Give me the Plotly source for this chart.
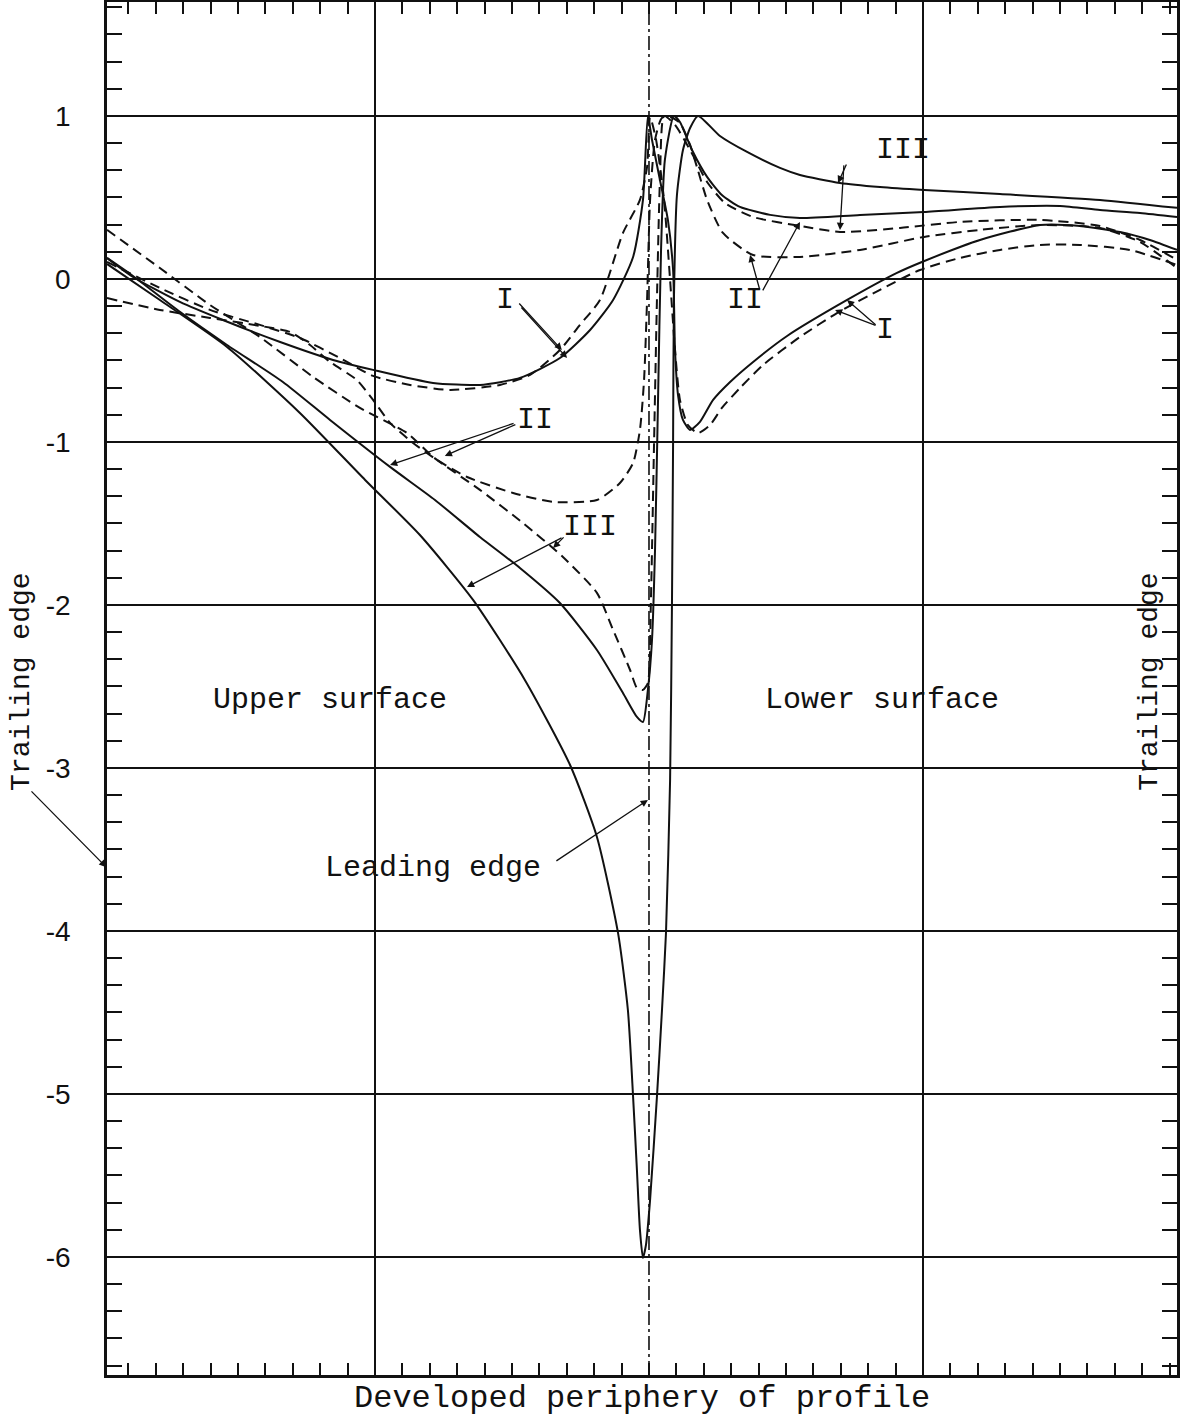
import numpy as np
import plotly.graph_objects as go

# ---------------- data (x: developed periphery, leading edge at 2; y: pressure ratio) -------------
I_SOLID_X = [0.022, 0.117, 0.288, 0.445, 0.654, 0.847, 0.993, 1.212, 1.383, 1.529, 1.675, 1.785, 1.869, 1.942, 1.978, 1.996,
             2.011, 2.040, 2.069, 2.088, 2.095, 2.106, 2.124, 2.150, 2.186, 2.234, 2.296, 2.380, 2.504, 2.723, 2.905, 2.996,
             3.208, 3.427, 3.573, 3.719, 3.828, 3.927]
I_SOLID_Y = [0.129, 0.012, -0.141, -0.252, -0.387, -0.497, -0.558, -0.638, -0.650, -0.607, -0.485, -0.313, -0.129, 0.135, 0.485, 1.0,
             0.853, 0.607, 0.362, 0.055, -0.436, -0.712, -0.865, -0.926, -0.877, -0.742, -0.632, -0.509, -0.350, -0.129, 0.037, 0.104,
             0.239, 0.331, 0.325, 0.288, 0.239, 0.178]

I_DASH_X = [0.022, 0.215, 0.398, 0.580, 0.726, 0.872, 0.993, 1.128, 1.274, 1.456, 1.566, 1.675, 1.748, 1.821, 1.905, 1.967, 1.993, 2.004,
            2.026, 2.055, 2.077, 2.095, 2.113, 2.142, 2.179, 2.223, 2.266, 2.332, 2.416, 2.551, 2.686, 2.843, 2.989, 3.135, 3.281,
            3.427, 3.573, 3.755, 3.927]
I_DASH_Y = [0.104, -0.055, -0.190, -0.282, -0.362, -0.485, -0.595, -0.650, -0.681, -0.650, -0.589, -0.436, -0.282, -0.129, 0.282, 0.485, 0.687, 0.994,
            0.853, 0.485, -0.006, -0.436, -0.742, -0.896, -0.945, -0.896, -0.791, -0.669, -0.528, -0.356, -0.209, -0.067, 0.055, 0.129, 0.178,
            0.209, 0.209, 0.178, 0.086]

II_SOLID_X = [0.022, 0.117, 0.288, 0.460, 0.664, 0.836, 1.055, 1.219, 1.383, 1.529, 1.675, 1.810, 1.905, 1.956, 1.978,
              1.996, 2.011, 2.022, 2.033, 2.044, 2.058, 2.091, 2.113, 2.157, 2.212, 2.266, 2.332, 2.442, 2.551, 2.770,
              3.004, 3.281, 3.500, 3.646, 3.792, 3.927]
II_SOLID_Y = [0.129, 0.018, -0.202, -0.405, -0.632, -0.865, -1.153, -1.356, -1.583, -1.773, -1.988, -2.276, -2.540, -2.687, -2.718,
              -2.521, -2.215, -1.663, -0.742, 0.178, 0.730, 1.0, 0.963, 0.791, 0.626, 0.515, 0.442, 0.393, 0.374, 0.393,
              0.411, 0.442, 0.448, 0.423, 0.405, 0.380]

II_DASH_X = [0.022, 0.215, 0.398, 0.580, 0.690, 0.763, 0.836, 0.934, 0.993, 1.055, 1.139, 1.226, 1.336, 1.504, 1.650, 1.810, 1.894,
             1.942, 1.967, 1.982, 1.993, 2.004, 2.022, 2.047, 2.077,
             2.113, 2.150, 2.175, 2.212, 2.270, 2.380, 2.551, 2.770, 3.004, 3.208, 3.427, 3.646, 3.792, 3.927]
II_DASH_Y = [-0.117, -0.190, -0.239, -0.288, -0.325, -0.405, -0.509, -0.620, -0.742, -0.883, -1.006, -1.110, -1.215, -1.313, -1.368, -1.356, -1.252,
             -1.129, -0.926, -0.620, -0.129, 0.485, 0.853, 0.988, 0.994,
             0.957, 0.822, 0.687, 0.485, 0.282, 0.147, 0.135, 0.178, 0.258, 0.301, 0.331, 0.313, 0.227, 0.067]

III_SOLID_X = [0.022, 0.215, 0.460, 0.726, 0.964, 1.164, 1.358, 1.547, 1.712, 1.810, 1.887, 1.923, 1.942, 1.956, 1.967, 1.978,
               1.989, 2.004, 2.029, 2.047, 2.062, 2.077, 2.084, 2.088, 2.091, 2.102, 2.124, 2.150, 2.179, 2.259, 2.358, 2.478,
               2.551, 2.697, 2.843, 3.004, 3.281, 3.646, 3.927]
III_SOLID_Y = [0.092, -0.129, -0.417, -0.822, -1.233, -1.571, -1.969, -2.460, -2.982, -3.423, -4.012, -4.485, -5.018, -5.466, -5.834, -6.006,
               -5.926, -5.650, -5.018, -4.497, -4.012, -3.074, -1.969, -0.988, -0.129, 0.515, 0.791, 0.926, 1.0, 0.877, 0.779, 0.681,
               0.638, 0.589, 0.564, 0.546, 0.521, 0.485, 0.436]

III_DASH_X = [0.022, 0.215, 0.398, 0.580, 0.774, 0.945, 1.117, 1.212, 1.383, 1.540, 1.686, 1.810, 1.869, 1.931, 1.956, 1.978, 1.996,
              2.007, 2.018, 2.029, 2.040, 2.055,
              2.095, 2.150, 2.212, 2.277, 2.380, 2.551, 2.697, 2.916, 3.135, 3.427, 3.646, 3.792, 3.927]
III_DASH_Y = [0.301, 0.067, -0.160, -0.356, -0.601, -0.791, -0.945, -1.092, -1.294, -1.497, -1.706, -1.926, -2.153, -2.399, -2.509, -2.521, -2.479,
              -1.969, -1.049, -0.129, 0.607, 1.0,
              0.945, 0.791, 0.595, 0.466, 0.380, 0.325, 0.288, 0.313, 0.350, 0.362, 0.325, 0.239, 0.117]

Y_TICK_VALUES = [1, 0, -1, -2, -3, -4, -5, -6]
Y_TICK_LABELS = ["1", "0", "-1", "-2", "-3", "-4", "-5", "-6"]
X_GRID_VALUES = [1, 3]
LEADING_EDGE_X = 2

X_RANGE = [0.022, 3.927]
Y_RANGE = [-6.724, 1.699]

# ---------------- figure ----------------
MONO = "Liberation Mono, Courier New, monospace"
SANS = "Liberation Sans, Arial, sans-serif"
BLACK = "#111111"

fig = go.Figure()

curves = [
    (I_SOLID_X, I_SOLID_Y, "solid", "I theory"),
    (I_DASH_X, I_DASH_Y, "10px,6px", "I experiment"),
    (II_SOLID_X, II_SOLID_Y, "solid", "II theory"),
    (II_DASH_X, II_DASH_Y, "10px,6px", "II experiment"),
    (III_SOLID_X, III_SOLID_Y, "solid", "III theory"),
    (III_DASH_X, III_DASH_Y, "10px,6px", "III experiment"),
]
for xs, ys, dash, name in curves:
    fig.add_trace(go.Scatter(
        x=xs, y=ys, mode="lines", name=name,
        line=dict(color=BLACK, width=2, dash=dash, shape="spline", smoothing=0.6),
        hoverinfo="skip",
    ))

# leading-edge dash-dot line
fig.add_vline(x=LEADING_EDGE_X, line=dict(color=BLACK, width=1.6, dash="14px,4px,3px,4px"), layer="below")

fig.update_xaxes(
    range=X_RANGE, showline=True, linecolor=BLACK, linewidth=2.5, mirror="ticks", automargin=False,
    tickmode="array", tickvals=X_GRID_VALUES, ticks="", showticklabels=False,
    showgrid=True, gridcolor=BLACK, gridwidth=1.6, zeroline=False,
    minor=dict(dtick=0.1, tick0=0, ticks="inside", ticklen=12, tickwidth=1.5, tickcolor=BLACK, showgrid=False),
)
fig.update_yaxes(
    range=Y_RANGE, showline=True, linecolor=BLACK, linewidth=2.5, mirror="ticks", automargin=False,
    tickmode="array", tickvals=Y_TICK_VALUES, ticktext=Y_TICK_LABELS, ticks="",
    ticklabelstandoff=28, tickfont=dict(family=SANS, size=28, color=BLACK),
    showgrid=True, gridcolor=BLACK, gridwidth=1.6, zeroline=False,
    minor=dict(dtick=1 / 6, tick0=0, ticks="inside", ticklen=15, tickwidth=1.5, tickcolor=BLACK, showgrid=False),
)

def label(text, x, y, size=30, **kw):
    fig.add_annotation(x=x, y=y, text=text, showarrow=False,
                       font=dict(family=MONO, size=size, color=BLACK), **kw)

def arrow(x, y, ax, ay):
    fig.add_annotation(x=x, y=y, ax=ax, ay=ay, text="", showarrow=True,
                       arrowhead=2, arrowsize=1.1, arrowwidth=1.3, arrowcolor=BLACK, standoff=0)

# curve labels
label("I", 1.474, -0.129)
arrow(1.682, -0.436, -44, -48)
arrow(1.701, -0.485, -47, -52)

label("II", 1.584, -0.865)
arrow(1.055, -1.141, 125, -42)
arrow(1.255, -1.086, 72, -32)

label("III", 1.785, -1.521)
arrow(1.336, -1.890, 96, -50)
arrow(1.650, -1.650, 12, -12)

label("III", 2.927, 0.791)
arrow(2.690, 0.589, 9, -20)
arrow(2.697, 0.301, 4, -66)

label("II", 2.350, -0.129)
arrow(2.369, 0.147, 10, 36)
arrow(2.551, 0.350, -38, 70)

label("I", 2.861, -0.313)
arrow(2.723, -0.129, 30, 26)
arrow(2.679, -0.190, 42, 16)

label("Upper surface", 0.836, -2.583)
label("Lower surface", 2.850, -2.583)
label("Leading edge", 1.212, -3.613)
arrow(1.996, -3.196, -93, 62)

label("Trailing edge", 3.828, -2.472, size=28, textangle=-90)
fig.add_annotation(xref="paper", x=0, xshift=-85, xanchor="center", y=-2.472, text="Trailing edge", showarrow=False,
                   textangle=-90, font=dict(family=MONO, size=28, color=BLACK))
fig.add_annotation(xref="paper", x=0, y=-3.613, ax=-77, ay=-78, text="", showarrow=True,
                   arrowhead=2, arrowsize=1.1, arrowwidth=1.3, arrowcolor=BLACK, standoff=1)

fig.add_annotation(xref="paper", yref="paper", x=0.5, y=0, yanchor="middle", yshift=-23, borderpad=0,
                   text="Developed periphery of profile", showarrow=False,
                   font=dict(family=MONO, size=32, color=BLACK))

fig.update_layout(
    width=1203, height=1420,
    margin=dict(l=107, r=26, t=2, b=45),
    plot_bgcolor="white", paper_bgcolor="white",
    showlegend=False,
)

fig.write_html("out.html", config={"displayModeBar": False},
               post_script="document.body.style.margin='0';document.body.style.overflow='hidden';")
